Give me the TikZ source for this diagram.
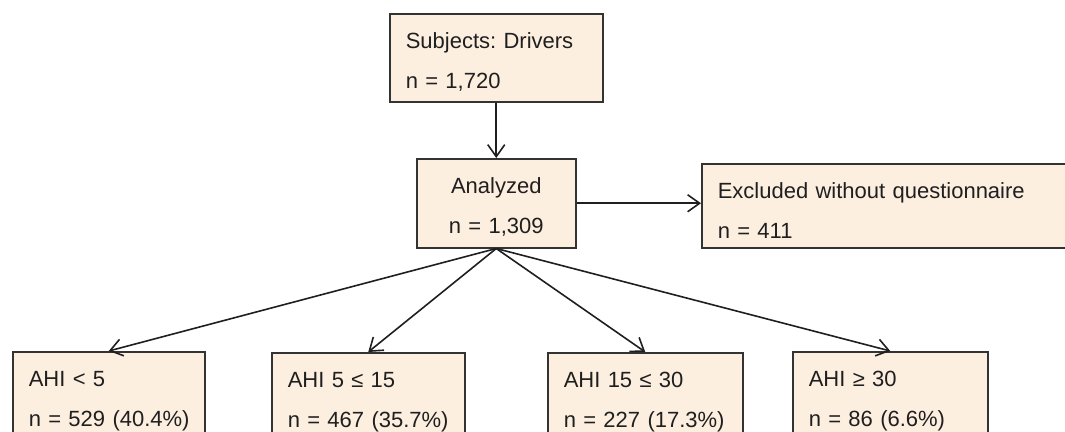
\documentclass[tikz,border=0pt]{standalone}
\usepackage{fontspec}
\setmainfont{Liberation Sans}
\usetikzlibrary{arrows.meta}

\definecolor{boxfill}{RGB}{253,239,224}
\definecolor{boxline}{RGB}{51,51,51}
\frenchspacing

\begin{document}
\begin{tikzpicture}[x=1pt,y=-1pt,
        box/.style={draw=boxline,fill=boxfill,line width=1.5pt,anchor=north west,
            inner xsep=16pt,inner ysep=0pt,text height=35pt,text depth=53pt,
            align=left,font=\fontsize{22}{40}\selectfont,text=black!88},
        arr/.style={line width=1.6pt,draw=black!88,-{Straight Barb[length=12pt,width=17pt]}}]
        \useasboundingbox (0,0) rectangle (1065,431);
        \clip (0,0) rectangle (1065,431);

        \node[box,text width=181pt] (subj) at (389,13) {Subjects: Drivers\\n = 1,720};
        \node[box,text width=127pt,text depth=54pt,align=center] (anal) at (416,158) {Analyzed\\n = 1,309};
        \node[box,text width=333pt,text depth=49pt] (excl) at (701,163) {Excluded without questionnaire\\n = 411};

        % AHI groups
        \node[box,text width=160pt,text depth=60pt] (ahi1) at (12,351) {AHI < 5\\\mbox{n = 529 (40.4\%)}};
        \node[box,text width=161pt,text depth=60pt] (ahi2) at (271,352) {AHI 5 ≤ 15\\\mbox{n = 467 (35.7\%)}};
        \node[box,text width=163pt,text depth=60pt] (ahi3) at (547,352) {AHI 15 ≤ 30\\\mbox{n = 227 (17.3\%)}};
        \node[box,text width=163pt,text depth=60pt] (ahi4) at (792,351) {AHI ≥ 30\\\mbox{n = 86 (6.6\%)}};

        \draw[arr] (subj.south) -- (anal.north);
        \draw[arr] (anal.east) -- (anal.east -| excl.west);
        \foreach \g in {ahi1,ahi2,ahi3,ahi4}
            \draw[arr] (anal.south) -- (\g.north);
\end{tikzpicture}
\end{document}
